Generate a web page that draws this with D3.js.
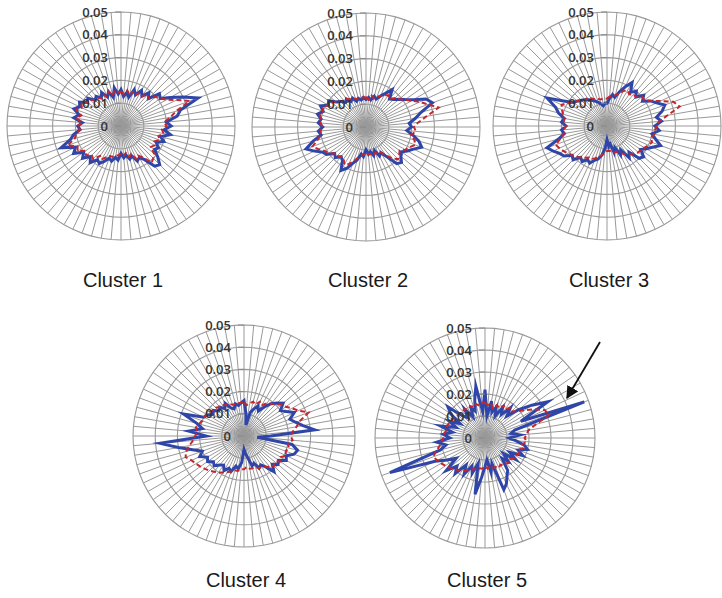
<!DOCTYPE html>
<html><head><meta charset="utf-8">
<script src="https://cdn.jsdelivr.net/npm/d3@7/dist/d3.min.js"></script>
<style>body{margin:0;background:#fff}svg{display:block}</style>
</head><body>
<svg id="c" width="722" height="598"></svg>
<script>
// 72 categories (one every 5 degrees, clockwise from the top)
const nCategories = 72;
const tickValues = [0, 0.01, 0.02, 0.03, 0.04, 0.05];
const tickLabels = ["0", "0.01", "0.02", "0.03", "0.04", "0.05"];
const clusterNames = ["Cluster 1", "Cluster 2", "Cluster 3", "Cluster 4", "Cluster 5"];

const blue1 = [0.016,0.013,0.015,0.013,0.017,0.015,0.018,0.016,0.019,0.017,0.022,0.021,0.025,0.030,0.036,0.027,0.025,0.020,0.022,0.019,0.022,0.018,0.020,0.017,0.019,0.018,0.021,0.024,0.023,0.018,0.016,0.017,0.014,0.015,0.013,0.014,0.012,0.015,0.014,0.016,0.015,0.017,0.019,0.018,0.021,0.019,0.022,0.020,0.024,0.022,0.028,0.023,0.021,0.018,0.019,0.017,0.021,0.019,0.022,0.020,0.021,0.018,0.019,0.016,0.017,0.015,0.017,0.014,0.016,0.013,0.017,0.014];
const red1 = [0.015,0.014,0.016,0.014,0.016,0.015,0.017,0.016,0.018,0.017,0.020,0.021,0.023,0.027,0.032,0.025,0.022,0.019,0.020,0.018,0.019,0.017,0.018,0.016,0.017,0.016,0.019,0.020,0.021,0.017,0.015,0.016,0.013,0.014,0.012,0.013,0.012,0.013,0.013,0.014,0.014,0.015,0.017,0.016,0.019,0.018,0.020,0.019,0.022,0.021,0.025,0.021,0.020,0.018,0.019,0.017,0.020,0.018,0.021,0.019,0.020,0.018,0.018,0.016,0.016,0.015,0.016,0.014,0.016,0.014,0.016,0.015];
const blue2 = [0.012,0.013,0.012,0.014,0.013,0.015,0.017,0.020,0.016,0.017,0.019,0.021,0.024,0.029,0.031,0.025,0.022,0.019,0.020,0.018,0.021,0.024,0.026,0.023,0.021,0.019,0.020,0.022,0.021,0.016,0.013,0.014,0.011,0.013,0.011,0.012,0.010,0.013,0.012,0.015,0.017,0.020,0.022,0.018,0.017,0.019,0.018,0.021,0.022,0.025,0.028,0.024,0.020,0.021,0.019,0.021,0.020,0.022,0.020,0.022,0.019,0.020,0.017,0.016,0.014,0.015,0.013,0.014,0.012,0.013,0.012,0.013];
const red2 = [0.013,0.012,0.014,0.013,0.014,0.015,0.016,0.017,0.016,0.018,0.019,0.021,0.023,0.026,0.029,0.033,0.027,0.023,0.021,0.022,0.020,0.022,0.023,0.021,0.020,0.018,0.019,0.020,0.018,0.015,0.013,0.013,0.012,0.013,0.012,0.012,0.011,0.012,0.013,0.014,0.016,0.018,0.019,0.017,0.017,0.018,0.018,0.020,0.021,0.023,0.025,0.022,0.020,0.020,0.019,0.020,0.020,0.021,0.020,0.021,0.019,0.019,0.017,0.016,0.015,0.015,0.014,0.014,0.013,0.013,0.013,0.013];
const blue3 = [0.010,0.012,0.014,0.013,0.016,0.019,0.022,0.018,0.020,0.018,0.021,0.019,0.022,0.024,0.027,0.025,0.022,0.024,0.021,0.023,0.020,0.022,0.025,0.022,0.020,0.018,0.021,0.020,0.015,0.017,0.012,0.014,0.010,0.012,0.008,0.009,0.006,0.010,0.013,0.015,0.016,0.018,0.017,0.019,0.018,0.021,0.020,0.023,0.024,0.026,0.028,0.022,0.019,0.020,0.018,0.020,0.019,0.022,0.024,0.029,0.022,0.018,0.017,0.016,0.015,0.014,0.013,0.012,0.011,0.010,0.009,0.010];
const red3 = [0.012,0.013,0.013,0.014,0.015,0.017,0.018,0.017,0.018,0.018,0.020,0.020,0.022,0.026,0.031,0.033,0.027,0.023,0.022,0.021,0.021,0.020,0.021,0.020,0.019,0.018,0.018,0.017,0.016,0.015,0.014,0.013,0.012,0.012,0.011,0.011,0.011,0.012,0.013,0.014,0.015,0.016,0.016,0.017,0.018,0.019,0.020,0.021,0.022,0.023,0.024,0.021,0.019,0.019,0.018,0.019,0.019,0.020,0.021,0.022,0.020,0.018,0.017,0.016,0.015,0.015,0.014,0.013,0.013,0.012,0.012,0.012];
const blue4 = [0.016,0.010,0.005,0.011,0.013,0.015,0.013,0.016,0.019,0.021,0.023,0.020,0.022,0.025,0.022,0.024,0.027,0.032,0.012,0.006,0.022,0.025,0.024,0.021,0.022,0.019,0.020,0.018,0.021,0.017,0.015,0.016,0.013,0.014,0.010,0.008,0.006,0.012,0.015,0.014,0.017,0.016,0.018,0.016,0.017,0.019,0.018,0.020,0.019,0.022,0.020,0.024,0.030,0.038,0.017,0.025,0.019,0.022,0.029,0.020,0.019,0.017,0.018,0.016,0.017,0.015,0.017,0.014,0.013,0.015,0.014,0.015];
const red4 = [0.015,0.014,0.015,0.016,0.015,0.017,0.016,0.018,0.019,0.020,0.022,0.023,0.025,0.027,0.031,0.026,0.024,0.022,0.021,0.022,0.020,0.021,0.020,0.021,0.019,0.020,0.018,0.019,0.018,0.017,0.016,0.016,0.015,0.015,0.015,0.014,0.015,0.015,0.016,0.016,0.017,0.018,0.019,0.020,0.021,0.022,0.023,0.024,0.025,0.026,0.028,0.027,0.025,0.023,0.022,0.021,0.022,0.021,0.020,0.020,0.019,0.019,0.018,0.018,0.017,0.017,0.016,0.016,0.015,0.015,0.015,0.015];
const blue5 = [0.022,0.010,0.017,0.012,0.015,0.011,0.016,0.013,0.018,0.014,0.020,0.026,0.033,0.018,0.048,0.014,0.012,0.016,0.011,0.014,0.018,0.020,0.016,0.019,0.013,0.017,0.011,0.015,0.012,0.018,0.020,0.023,0.025,0.012,0.016,0.010,0.013,0.018,0.026,0.012,0.017,0.014,0.019,0.015,0.021,0.018,0.023,0.016,0.020,0.025,0.046,0.021,0.018,0.022,0.016,0.019,0.015,0.021,0.014,0.018,0.013,0.019,0.022,0.014,0.012,0.016,0.011,0.015,0.013,0.018,0.024,0.012];
const red5 = [0.016,0.015,0.016,0.014,0.016,0.015,0.017,0.016,0.018,0.017,0.019,0.022,0.026,0.030,0.031,0.024,0.020,0.019,0.018,0.019,0.017,0.018,0.016,0.017,0.016,0.016,0.015,0.016,0.015,0.015,0.014,0.015,0.014,0.014,0.013,0.014,0.013,0.014,0.014,0.015,0.015,0.016,0.017,0.018,0.019,0.020,0.021,0.022,0.023,0.024,0.025,0.023,0.021,0.020,0.019,0.019,0.018,0.018,0.018,0.017,0.017,0.017,0.016,0.016,0.016,0.016,0.015,0.016,0.015,0.016,0.015,0.016];

const blueSeries = [blue1, blue2, blue3, blue4, blue5];
const redSeries = [red1, red2, red3, red4, red5];

// layout (pixels)
const panels = [
  {cx:121, cy:126, R:114, ly:287},
  {cx:366, cy:127, R:114, ly:287},
  {cx:607, cy:126, R:114, ly:287},
  {cx:244, cy:436, R:111, ly:587},
  {cx:485, cy:438, R:110, ly:587}
];

const svg = d3.select("#c");
const categories = d3.range(nCategories);
const angle = d3.scaleLinear().domain([0, nCategories]).range([0, 2*Math.PI]);

panels.forEach((p, k) => {
  const g = svg.append("g").attr("transform", `translate(${p.cx},${p.cy})`);
  const r = d3.scaleLinear().domain([0, 0.05]).range([0, p.R]);

  // spokes
  g.append("g").selectAll("line").data(categories).join("line")
    .attr("x1", 0).attr("y1", 0)
    .attr("x2", d => r(0.05) * Math.sin(angle(d)))
    .attr("y2", d => -r(0.05) * Math.cos(angle(d)))
    .attr("stroke", "#999").attr("stroke-width", 1);

  // rings (polygon gridlines)
  const ringLine = d3.lineRadial().angle(d => angle(d)).curve(d3.curveLinearClosed);
  g.append("g").selectAll("path").data(tickValues.slice(1)).join("path")
    .attr("d", v => ringLine.radius(() => r(v))(categories))
    .attr("fill", "none").attr("stroke", "#999").attr("stroke-width", 1.1);

  // series
  const line = d3.lineRadial()
    .angle((d, i) => angle(i))
    .radius(d => r(d))
    .curve(d3.curveLinearClosed);
  g.append("path").attr("d", line(blueSeries[k]))
    .attr("fill", "none").attr("stroke", "#2f45a8").attr("stroke-width", 3)
    .attr("stroke-linejoin", "miter").attr("stroke-miterlimit", 6);
  g.append("path").attr("d", line(redSeries[k]))
    .attr("fill", "none").attr("stroke", "#c4262e").attr("stroke-width", 2)
    .attr("stroke-dasharray", "5,3");

  // axis ticks + labels
  g.append("g").selectAll("line").data(tickValues).join("line")
    .attr("x1", -6).attr("x2", 0)
    .attr("y1", v => -r(v)).attr("y2", v => -r(v))
    .attr("stroke", "#888").attr("stroke-width", 1);
  g.append("g").selectAll("text").data(tickValues).join("text")
    .attr("x", -13).attr("y", v => -r(v))
    .attr("dy", "0.35em").attr("text-anchor", "end")
    .attr("font-family", "'Open Sans', sans-serif").attr("font-weight", 600)
    .attr("font-size", 13).attr("fill", "#333")
    .text((v, i) => tickLabels[i]);

  // cluster title
  svg.append("text").attr("x", p.cx + 2).attr("y", p.ly)
    .attr("text-anchor", "middle")
    .attr("font-family", "'Liberation Sans', Arial, sans-serif")
    .attr("font-size", 20).attr("fill", "#1a1a1a")
    .text(clusterNames[k]);
});

// arrow pointing at the cluster 5 spike
const defs = svg.append("defs");
defs.append("marker").attr("id", "ah").attr("viewBox", "0 0 10 10")
  .attr("refX", 9).attr("refY", 5).attr("markerWidth", 7).attr("markerHeight", 7)
  .attr("orient", "auto").append("path").attr("d", "M0,0L10,5L0,10z").attr("fill", "#111");
svg.append("line").attr("x1", 600).attr("y1", 342).attr("x2", 567).attr("y2", 398)
  .attr("stroke", "#111").attr("stroke-width", 1.8).attr("marker-end", "url(#ah)");
</script>
</body></html>
